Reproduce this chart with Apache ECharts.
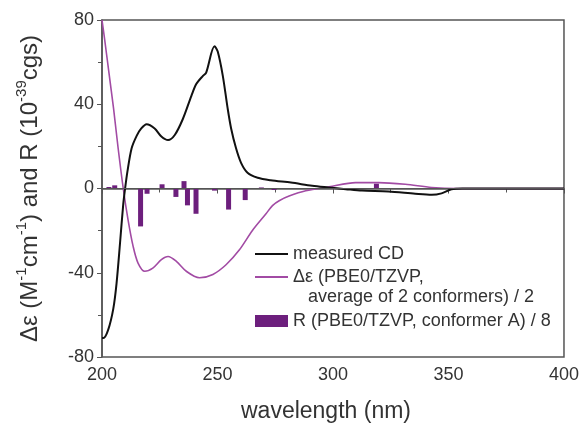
<!DOCTYPE html>
<html>
<head>
<meta charset="utf-8">
<script src="https://cdn.jsdelivr.net/npm/echarts@6/dist/echarts.min.js"></script>
<style>
  html, body { margin: 0; padding: 0; background: #fff; }
  #main { width: 582px; height: 428px; }
</style>
</head>
<body>
<div id="main"></div>
<script>
// measured CD  [wavelength, value]
var measuredCD = [
    [200, -71], [200.6, -71], [202.7, -67], [204.9, -57], [206.3, -45], [207.8, -26],
    [209.2, -7.4], [210, 0], [211, 8], [212.8, 19], [215, 25], [217, 28.5], [219.3, 30.5],
    [222.8, 28.5], [225.7, 24.7], [228.6, 23], [231.5, 25.4], [235, 33], [238.7, 44],
    [240.8, 49.6], [243.7, 53.5], [245.1, 55], [248.7, 67.5], [250.1, 65], [252.3, 53.5],
    [254.4, 38], [255.9, 28.5], [258, 19.2], [260.2, 12.2], [263, 7.5], [267.4, 5.1],
    [273, 3.9], [281.8, 2.8], [291, 1.3], [298, 0.5], [305.5, -0.3], [312.5, -1],
    [324, -1.4], [335.6, -2.5], [342.8, -3], [347, -2.3], [351.3, -0.4], [356, 0], [400, 0]
];
// calculated delta epsilon / 2
var calcDeltaEps = [
    [200, 80], [201, 72], [203, 55], [205, 38], [207, 19], [209.2, 0], [211.3, -15],
    [213.5, -27.6], [215.6, -35.4], [218.5, -39.3], [222, -37.8], [225.7, -33.8],
    [228.6, -32.3], [232.2, -34.6], [236.5, -39.3], [242.2, -42.4], [248, -40.8],
    [253.7, -36.2], [259.5, -29.1], [265.2, -19.8], [271, -12], [273.8, -8.1],
    [276.7, -5.8], [281, -3.6], [288.2, -1.1], [298.3, 0.8], [309.8, 2.8], [319.8, 2.8],
    [331.3, 2], [342.7, 0.5], [354, 0], [400, 0]
];
// rotational strengths / 8
var rotStrength = [
    [203, 0.7], [205.5, 1.5], [216.7, -18], [219.5, -2.5], [226, 2], [232, -4],
    [235.5, 3.5], [237, -8], [240.7, -12], [248.7, -1], [254.8, -10], [262, -5.5],
    [269, 0.5], [274.5, -0.7], [318.8, 2.3]
];
var xTicks = [200, 250, 300, 350, 400];
var yTicks = [-80, -40, 0, 40, 80];

var nameCD = 'measured CD';
var nameEps = 'Δε (PBE0/TZVP, average of 2 conformers) / 2';
var nameR = 'R (PBE0/TZVP, conformer A) / 8';

var chart = echarts.init(document.getElementById('main'));
var font = 'Liberation Sans, Arial, sans-serif';
var axisColor = '#555';
var textColor = '#333';

var option = {
    animation: false,
    grid: {
        left: 102, right: 16, top: 20, bottom: 66,
        show: true, borderColor: axisColor, borderWidth: 1.5
    },
    xAxis: {
        type: 'value',
        min: xTicks[0], max: xTicks[xTicks.length - 1], interval: 50,
        name: 'wavelength (nm)',
        nameLocation: 'middle',
        nameGap: 43,
        nameTextStyle: { fontFamily: font, fontSize: 23, color: textColor, padding: [0, 14, 0, 0] },
        axisLine: { show: true, lineStyle: { color: axisColor, width: 1.5 } },
        axisTick: { show: true, inside: false, length: 5, lineStyle: { color: axisColor } },
        minorTick: { show: true, splitNumber: 2, length: 4, lineStyle: { color: axisColor } },
        splitLine: { show: false },
        axisLabel: { fontFamily: font, fontSize: 18, color: textColor, margin: 9 }
    },
    yAxis: {
        type: 'value',
        min: yTicks[0], max: yTicks[yTicks.length - 1], interval: 40,
        name: '{a|Δε (M}{s|-1}{a|cm}{s|-1}{a|) and R (10}{s|-39}{a|cgs)}',
        nameLocation: 'middle',
        nameRotate: 90,
        nameGap: 60,
        nameTextStyle: {
            rich: {
                a: { fontFamily: font, fontSize: 24, color: textColor, lineHeight: 28, verticalAlign: 'bottom' },
                s: { fontFamily: font, fontSize: 15, color: textColor, lineHeight: 28, verticalAlign: 'top' }
            }
        },
        axisLine: { show: true, lineStyle: { color: axisColor, width: 1.5 } },
        axisTick: { show: true, inside: false, length: 5, lineStyle: { color: axisColor } },
        minorTick: { show: true, splitNumber: 2, length: 4, lineStyle: { color: axisColor } },
        splitLine: { show: false },
        axisLabel: { fontFamily: font, fontSize: 18, color: textColor, margin: 8 }
    },
    legend: [
        {
            data: [nameCD], left: 255, top: 244, padding: 0, orient: 'vertical',
            icon: 'rect', itemWidth: 33, itemHeight: 2, itemGap: 5,
            textStyle: { fontFamily: font, fontSize: 18, color: textColor, lineHeight: 20 }
        },
        {
            data: [nameEps], left: 255, top: 267, padding: 0, orient: 'vertical',
            icon: 'rect', itemWidth: 33, itemHeight: 2, itemGap: 5,
            formatter: function () { return 'Δε (PBE0/TZVP,'; },
            textStyle: { fontFamily: font, fontSize: 18, color: textColor, lineHeight: 20 }
        },
        {
            data: [nameR], left: 255, top: 311, padding: 0, orient: 'vertical',
            icon: 'rect', itemWidth: 33, itemHeight: 12, itemGap: 5,
            textStyle: { fontFamily: font, fontSize: 18, color: textColor, lineHeight: 20 }
        }
    ],
    graphic: [
        {
            type: 'text', left: 308, top: 288, silent: true,
            style: {
                text: 'average of 2 conformers) / 2',
                fontFamily: font, fontSize: 18, fill: textColor
            }
        }
    ],
    series: [
        {
            name: nameR,
            type: 'bar',
            data: rotStrength,
            barWidth: 5,
            itemStyle: { color: '#6d1f7d' },
            markLine: {
                silent: true,
                symbol: 'none',
                label: { show: false },
                lineStyle: { color: axisColor, width: 1.2, type: 'solid' },
                data: [{ yAxis: 0 }]
            },
            z: 1
        },
        {
            name: nameEps,
            type: 'line',
            data: calcDeltaEps,
            symbol: 'none',
            smooth: 0.3,
            lineStyle: { color: '#a24ba4', width: 1.6 },
            itemStyle: { color: '#a24ba4' },
            z: 2
        },
        {
            name: nameCD,
            type: 'line',
            data: measuredCD,
            symbol: 'none',
            smooth: 0.3,
            lineStyle: { color: '#111', width: 2 },
            itemStyle: { color: '#111' },
            z: 3
        }
    ]
};

chart.setOption(option);
window.addEventListener('resize', function () {
    chart.resize();
});
</script>
</body>
</html>
